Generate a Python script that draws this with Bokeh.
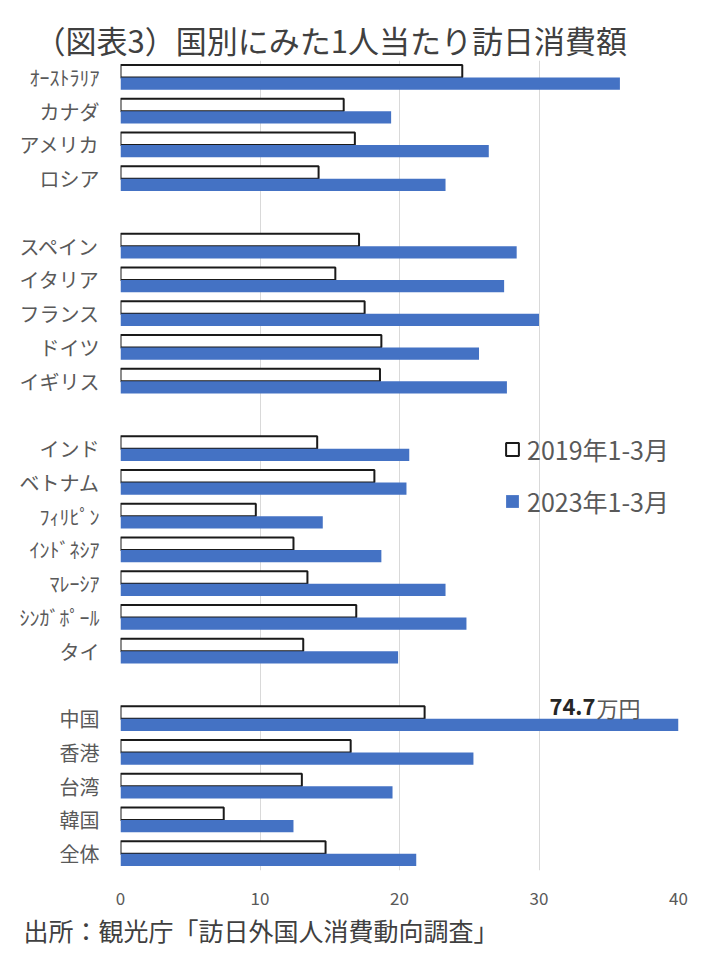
from bokeh.plotting import figure
from bokeh.models import (ColumnDataSource, Range1d, FixedTicker, Label,
                          Legend, LegendItem, Title)
from bokeh.embed import file_html
from bokeh.resources import INLINE

# ---------------- data ----------------
countries = ["ｵｰｽﾄﾗﾘｱ", "カナダ", "アメリカ", "ロシア",
             "スペイン", "イタリア", "フランス", "ドイツ", "イギリス",
             "インド", "ベトナム", "ﾌｨﾘﾋﾟﾝ", "ｲﾝﾄﾞﾈｼｱ", "ﾏﾚｰｼｱ", "ｼﾝｶﾞﾎﾟｰﾙ", "タイ",
             "中国", "香港", "台湾", "韓国", "全体"]
group_sizes = [4, 5, 7, 5]
v2019 = [24.5, 16.0, 16.8, 14.2,
         17.1, 15.4, 17.5, 18.7, 18.6,
         14.1, 18.2, 9.7, 12.4, 13.4, 16.9, 13.1,
         21.8, 16.5, 13.0, 7.4, 14.7]
v2023 = [35.8, 19.4, 26.4, 23.3,
         28.4, 27.5, 30.0, 25.7, 27.7,
         20.7, 20.5, 14.5, 18.7, 23.3, 24.8, 19.9,
         74.7, 25.3, 19.5, 12.4, 21.2]
series = ["2019年1-3月", "2023年1-3月"]
x_ticks = [0, 10, 20, 30, 40]
china_value = "74.7"
china_unit = "万円"
title_text = "（図表3）国別にみた1人当たり訪日消費額"
source_text = "出所：観光庁「訪日外国人消費動向調査」"

# slot positions (one empty slot between groups)
pos = []
s = 0
for g in group_sizes:
    for _ in range(g):
        pos.append(s)
        s += 1
    s += 1
n_slots = pos[-1] + 1

FONT = "Noto Sans CJK JP"
BAR_H = 0.37

src = ColumnDataSource(dict(
    y19=[p_ - BAR_H / 2 for p_ in pos],
    y23=[p_ + BAR_H / 2 for p_ in pos],
    v19=v2019, v23=v2023, name=countries))

W, H = 715, 953
BL, BR, BT, BB = 120, 37, 60, 83
p = figure(width=W, height=H, output_backend="svg", toolbar_location=None,
           x_range=Range1d(x_ticks[0], x_ticks[-1]),
           y_range=Range1d(n_slots - 0.5, -0.5),
           min_border_left=BL, min_border_right=BR,
           min_border_top=BT, min_border_bottom=BB)
p.outline_line_color = None
p.background_fill_color = "white"
p.border_fill_color = "white"

p.title = Title(text=title_text, align="left", offset=-86, standoff=-2,
                text_font=FONT, text_font_size="31px",
                text_font_style="normal", text_color="#404040")
p.add_layout(Title(text=source_text, align="left", offset=-97, standoff=4,
                   text_font=FONT, text_font_size="25px",
                   text_font_style="normal", text_color="#404040"), "below")

r19 = p.hbar(y="y19", right="v19", left=0, height=BAR_H, source=src,
             fill_color="white", line_color="#1a1a1a", line_width=2)
r23 = p.hbar(y="y23", right="v23", left=0, height=BAR_H, source=src,
             fill_color="#4472C4", line_color=None)

# axes
p.xaxis.ticker = FixedTicker(ticks=x_ticks)
p.xaxis.axis_line_color = None
p.xaxis.major_tick_line_color = None
p.xaxis.minor_tick_line_color = None
p.xaxis.major_label_standoff = 15
p.xaxis.major_label_text_font = FONT
p.xaxis.major_label_text_font_size = "17px"
p.xaxis.major_label_text_color = "#595959"

p.yaxis.ticker = FixedTicker(ticks=pos)
p.yaxis.major_label_overrides = {p_: c for p_, c in zip(pos, countries)}
p.yaxis.axis_line_color = None
p.yaxis.major_tick_line_color = None
p.yaxis.minor_tick_line_color = None
p.yaxis.major_label_standoff = 15
p.yaxis.major_label_text_font = FONT
p.yaxis.major_label_text_font_size = "20px"
p.yaxis.major_label_text_color = "#595959"

p.xgrid.grid_line_color = "#d9d9d9"
p.xgrid.grid_line_width = 1
p.ygrid.grid_line_color = None

# legend
legend = Legend(items=[LegendItem(label=series[0], renderers=[r19]),
                       LegendItem(label=series[1], renderers=[r23])],
                location=(384, 351))
legend.border_line_alpha = 0
legend.background_fill_alpha = 0
legend.padding = 0
legend.margin = 0
legend.spacing = 16
legend.glyph_width = 16
legend.glyph_height = 16
legend.label_standoff = 7
legend.label_height = 24
legend.label_text_font = FONT
legend.label_text_font_size = "25px"
legend.label_text_color = "#595959"
p.add_layout(legend)

# value label for clipped China bar (number bold, unit regular)
china_idx = countries.index("中国")
p.add_layout(Label(x=x_ticks[-1], y=pos[china_idx], x_offset=-38, y_offset=12,
                   text=china_unit, text_align="right",
                   text_baseline="middle", text_font=FONT,
                   text_font_size="22px", text_font_style="normal",
                   text_color="#595959"))
p.add_layout(Label(x=x_ticks[-1], y=pos[china_idx], x_offset=-83, y_offset=12,
                   text=china_value, text_align="right",
                   text_baseline="middle", text_font=FONT,
                   text_font_size="22px", text_font_style="bold",
                   text_color="#262626"))

open("out.html", "w").write(file_html(p, INLINE))
